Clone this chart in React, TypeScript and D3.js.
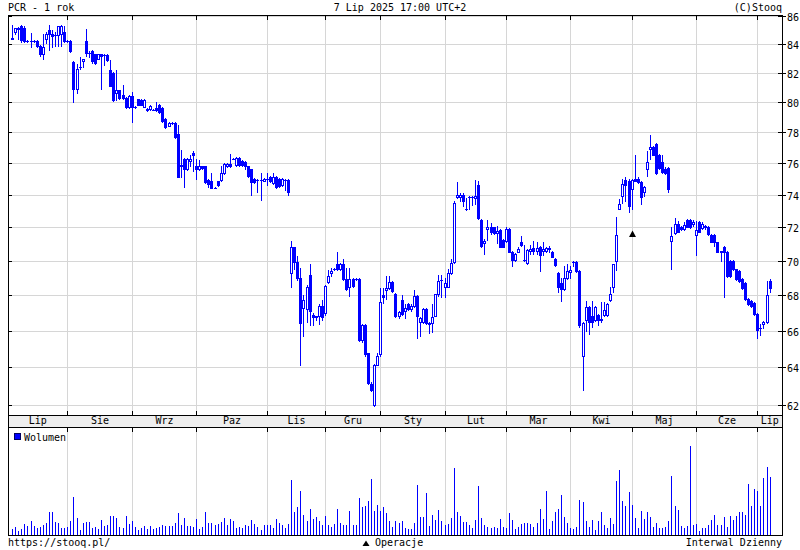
import React from "react";
import * as d3 from "d3";

const titleText = "PCR - 1 rok";
const dateText = "7 Lip 2025 17:00 UTC+2";
const copyText = "(C)Stooq";
const footerLeft = "https://stooq.pl/";
const footerMid = "Operacje";
const footerRight = "Interwal Dzienny";
const legendText = "Wolumen";

const monthLabels = ["Lip", "Sie", "Wrz", "Paz", "Lis", "Gru", "Sty", "Lut", "Mar", "Kwi", "Maj", "Cze", "Lip"];
// session index of the first session of each month after the first one
const monthStartIdx = [18, 39, 60, 83, 102, 120, 141, 161, 182, 202, 223, 243];
const priceTicks = [62, 64, 66, 68, 70, 72, 74, 76, 78, 80, 82, 84, 86];

const open = [
  84.45, 84.85, 85.15, 85.3, 85.15, 84.25, 84.25, 84.25, 84.25, 83.9,
  83.3, 84.4, 85.0, 84.75, 84.65, 84.65, 84.7, 84.85, 84.25, 84.25,
  82.75, 80.9, 82.4, 82.8, 84.25, 83.4, 83.55, 83.3, 83.0, 83.3,
  83.25, 83.25, 82.2, 82.0, 80.6, 80.8, 80.5, 80.3, 79.65, 80.45,
  79.7, 80.2, 80.15, 79.7, 79.55, 79.55, 79.5, 79.6, 79.8, 79.6,
  78.9, 78.45, 78.6, 78.6, 77.9, 75.8, 76.3, 75.6, 76.15, 76.65,
  75.8, 75.6, 75.8, 75.8, 74.95, 74.85, 74.45, 74.85, 74.95, 75.35,
  75.8, 75.95, 76.3, 75.9, 76.35, 76.15, 76.1, 75.8, 75.6, 75.0,
  74.95, 74.95, 74.9, 75.0, 75.15, 74.75, 75.15, 75.0, 74.6, 74.95,
  74.95, 69.3, 70.8, 69.95, 69.0, 67.3, 67.2, 69.15, 66.9, 66.8,
  66.8, 67.4, 67.0, 68.75, 69.3, 69.5, 69.8, 69.5, 69.8, 68.95,
  68.5, 68.95, 68.95, 68.95, 65.5, 66.3, 64.75, 63.1, 62.0, 64.15,
  64.7, 68.0, 68.3, 68.4, 68.75, 68.1, 66.8, 67.75, 67.1, 67.5,
  67.2, 67.4, 67.95, 66.5, 66.5, 67.2, 66.35, 66.45, 66.85, 68.1,
  68.9, 68.45, 68.5, 69.3, 69.95, 73.85, 73.85, 74.0, 73.1, 73.85,
  73.85, 73.8, 74.6, 72.45, 71.05, 71.9, 72.05, 72.0, 71.65, 71.85,
  71.25, 71.2, 71.9, 70.55, 70.05, 70.55, 71.15, 70.05, 69.85, 70.6,
  70.75, 70.6, 70.85, 70.6, 70.6, 70.7, 70.55, 70.1, 69.3, 68.7,
  68.35, 69.0, 69.35, 69.92, 69.92, 69.4, 64.6, 66.6, 67.35, 66.85,
  66.6, 66.9, 66.6, 66.9, 66.9, 67.75, 68.48, 70.0, 73.15, 73.9,
  74.95, 74.85, 74.35, 75.0, 75.0, 74.8, 74.15, 75.65, 76.9, 77.05,
  77.25, 76.55, 76.05, 75.65, 75.7, 71.2, 71.65, 72.2, 72.0, 71.9,
  72.45, 72.45, 72.2, 71.55, 72.35, 71.95, 72.1, 72.05, 71.55, 71.55,
  71.1, 70.57, 70.85, 70.55, 69.98, 69.98, 69.5, 69.4, 68.95, 68.7,
  67.8, 67.7, 67.55, 66.95, 66.15, 66.4, 66.5, 68.8,
];
const high = [
  85.4, 85.15, 85.2, 85.4, 85.3, 84.3, 84.8, 84.3, 84.3, 83.95,
  84.7, 84.9, 85.35, 85.0, 84.9, 85.3, 85.4, 85.3, 84.3, 84.3,
  82.8, 82.6, 83.1, 82.95, 85.1, 83.5, 83.6, 83.35, 83.3, 83.35,
  83.35, 83.3, 82.9, 82.05, 82.2, 80.85, 81.2, 80.35, 80.5, 80.7,
  79.75, 80.25, 80.2, 80.2, 79.6, 79.8, 79.55, 80.0, 79.9, 79.65,
  78.95, 78.65, 78.65, 78.65, 78.5, 76.85, 76.35, 76.35, 76.5, 76.8,
  76.3, 76.2, 75.85, 75.85, 75.0, 75.35, 74.5, 74.9, 75.8, 76.0,
  76.0, 76.6, 76.35, 76.4, 76.4, 76.2, 76.15, 75.85, 75.65, 75.05,
  75.0, 75.35, 75.05, 75.35, 75.2, 75.35, 75.2, 75.05, 75.05, 75.0,
  75.0, 71.2, 70.85, 70.3, 69.6, 68.0, 68.6, 69.8, 67.0, 66.85,
  67.5, 67.75, 68.6, 69.45, 69.6, 69.6, 70.5, 69.85, 70.1, 69.6,
  69.6, 69.0, 69.0, 69.0, 66.4, 66.35, 64.8, 63.2, 64.2, 64.8,
  68.4, 68.4, 69.1, 69.1, 68.8, 68.15, 67.1, 68.0, 67.5, 67.55,
  67.5, 68.3, 68.0, 66.75, 67.25, 67.25, 66.5, 67.5, 68.1, 69.2,
  69.2, 69.0, 69.5, 70.1, 73.6, 74.8, 74.1, 74.1, 73.8, 73.9,
  73.9, 74.95, 74.9, 72.5, 71.3, 72.45, 72.25, 72.05, 72.1, 71.9,
  71.3, 72.05, 71.95, 70.6, 70.45, 70.8, 71.5, 70.95, 70.7, 70.95,
  71.2, 71.15, 70.9, 71.15, 70.8, 70.9, 70.6, 70.15, 69.35, 69.0,
  69.7, 69.8, 69.7, 70.0, 70.0, 69.45, 66.5, 67.65, 67.4, 67.7,
  67.4, 66.95, 67.6, 67.6, 67.55, 68.45, 69.8, 72.65, 73.75, 75.0,
  75.15, 75.0, 75.0, 76.55, 75.1, 74.85, 74.55, 76.8, 77.8, 77.1,
  77.3, 76.6, 76.5, 75.75, 75.75, 72.05, 72.6, 72.4, 72.1, 72.3,
  72.5, 72.5, 72.45, 72.4, 72.4, 72.3, 72.15, 72.1, 71.6, 71.6,
  71.15, 70.6, 70.9, 70.6, 70.05, 70.05, 69.55, 69.45, 69.0, 68.75,
  67.85, 67.75, 67.6, 67.0, 66.4, 66.55, 68.8, 68.95,
];
const low = [
  84.4, 84.7, 84.4, 84.2, 84.2, 84.2, 83.8, 84.2, 83.8, 83.2,
  83.0, 84.1, 83.6, 83.8, 83.85, 83.85, 83.85, 84.2, 84.2, 83.45,
  80.0, 80.6, 82.3, 82.4, 83.2, 83.1, 82.7, 82.6, 82.95, 80.9,
  82.55, 82.85, 81.1, 80.1, 80.15, 80.25, 80.2, 79.6, 79.6, 78.7,
  79.6, 79.8, 79.8, 79.65, 79.4, 79.5, 79.45, 79.4, 79.3, 78.7,
  78.3, 78.4, 78.55, 77.65, 75.1, 75.1, 74.5, 75.55, 75.85, 75.5,
  75.0, 75.55, 75.65, 74.75, 74.5, 74.4, 74.4, 74.55, 74.9, 75.3,
  75.75, 75.75, 76.25, 75.85, 75.85, 75.85, 75.6, 75.15, 74.0, 74.75,
  74.2, 73.7, 74.85, 74.6, 74.8, 74.7, 74.45, 74.5, 74.55, 74.3,
  74.0, 68.5, 69.5, 68.9, 64.1, 65.7, 66.5, 66.3, 66.3, 66.6,
  66.4, 66.6, 66.9, 68.7, 69.1, 69.45, 69.45, 69.45, 68.9, 68.3,
  67.95, 68.5, 68.9, 65.45, 65.4, 64.6, 63.1, 62.75, 61.95, 64.1,
  64.6, 67.55, 67.8, 68.35, 68.2, 66.75, 66.7, 66.9, 66.7, 67.15,
  67.1, 67.35, 65.6, 65.7, 66.45, 66.4, 65.85, 65.95, 66.8, 67.95,
  67.9, 67.9, 68.45, 69.25, 69.9, 73.8, 73.6, 73.3, 73.05, 73.15,
  73.4, 73.45, 72.5, 70.85, 70.4, 71.25, 71.6, 71.6, 71.05, 70.8,
  70.8, 71.15, 70.5, 69.7, 70.0, 70.5, 70.9, 70.0, 69.8, 70.4,
  70.4, 70.4, 69.4, 70.35, 70.55, 70.55, 70.2, 69.7, 68.2, 67.7,
  68.3, 68.95, 69.0, 69.7, 69.35, 66.2, 62.8, 66.0, 65.8, 66.2,
  66.55, 66.3, 66.5, 66.85, 66.85, 67.7, 68.2, 69.45, 73.1, 73.5,
  73.6, 72.95, 73.1, 74.85, 74.75, 73.45, 73.95, 75.2, 76.3, 76.5,
  75.3, 75.65, 75.4, 75.3, 74.2, 69.5, 71.6, 71.7, 71.85, 71.85,
  72.0, 71.95, 72.1, 70.35, 71.7, 71.9, 71.9, 71.55, 71.1, 70.9,
  70.5, 70.0, 67.9, 69.05, 69.05, 69.45, 68.9, 68.75, 68.35, 67.75,
  67.45, 67.35, 66.9, 65.6, 65.75, 66.15, 66.45, 68.2,
];
const close = [
  84.4, 85.15, 85.1, 84.3, 84.25, 84.25, 84.25, 84.25, 83.85, 83.3,
  83.8, 84.75, 84.7, 84.6, 84.65, 85.3, 85.3, 84.25, 84.25, 83.5,
  80.9, 82.3, 82.4, 82.95, 83.4, 83.4, 82.8, 82.7, 83.3, 83.2,
  83.25, 82.9, 81.1, 80.15, 80.8, 80.3, 80.3, 79.65, 80.45, 79.65,
  79.7, 79.85, 79.85, 80.15, 79.45, 79.75, 79.5, 79.5, 79.35, 78.75,
  78.35, 78.6, 78.6, 77.7, 75.15, 75.9, 75.6, 76.3, 76.3, 76.5,
  75.6, 75.8, 75.7, 74.8, 74.7, 74.45, 74.45, 74.6, 75.35, 75.95,
  75.95, 75.8, 76.3, 76.35, 75.9, 75.9, 75.8, 75.2, 74.8, 74.8,
  74.95, 74.95, 75.0, 75.0, 74.85, 75.15, 74.5, 74.55, 75.0, 74.95,
  74.2, 70.8, 69.95, 69.0, 66.45, 67.75, 68.5, 67.1, 66.75, 66.75,
  67.4, 66.75, 68.55, 69.1, 69.4, 69.55, 69.5, 69.8, 68.95, 68.35,
  68.95, 68.55, 68.95, 65.5, 66.3, 64.7, 63.15, 62.8, 64.15, 64.6,
  67.6, 67.9, 68.4, 68.75, 68.25, 66.8, 67.05, 66.95, 67.3, 67.2,
  67.4, 67.95, 66.85, 66.7, 67.2, 66.45, 66.45, 66.75, 68.08, 68.8,
  68.9, 68.7, 69.3, 69.87, 73.5, 74.0, 74.0, 73.6, 73.15, 73.85,
  73.85, 73.9, 72.55, 70.9, 71.2, 72.05, 71.7, 71.65, 71.8, 70.85,
  70.85, 71.9, 70.55, 70.05, 70.4, 70.7, 70.95, 70.05, 70.65, 70.7,
  70.6, 70.75, 70.35, 70.7, 70.75, 70.75, 70.25, 69.75, 68.5, 68.35,
  69.0, 69.4, 69.45, 69.92, 69.4, 66.3, 66.45, 67.35, 66.5, 66.5,
  67.35, 66.6, 66.65, 67.15, 67.5, 68.08, 69.8, 71.55, 73.45, 74.65,
  74.6, 73.3, 74.95, 74.9, 74.8, 73.85, 74.5, 76.1, 77.05, 76.55,
  75.35, 75.7, 75.45, 75.35, 74.35, 71.5, 72.2, 71.75, 71.9, 72.15,
  72.05, 72.0, 72.35, 71.85, 71.75, 72.2, 72.05, 71.6, 71.15, 71.1,
  70.55, 70.55, 70.55, 69.1, 69.1, 69.5, 68.95, 68.8, 68.4, 67.8,
  67.5, 67.4, 66.95, 66.05, 66.15, 66.5, 68.0, 68.4,
];
const volume = [
  47, 67, 27, 50, 97, 77, 127, 77, 63, 70,
  93, 110, 217, 217, 117, 107, 60, 60, 67, 127,
  367, 160, 40, 107, 117, 117, 60, 67, 50, 137,
  77, 87, 177, 177, 163, 67, 63, 177, 97, 127,
  70, 40, 60, 83, 53, 83, 47, 57, 73, 93,
  77, 77, 77, 107, 207, 87, 160, 77, 77, 70,
  147, 47, 67, 217, 107, 107, 93, 97, 117, 157,
  87, 150, 130, 60, 73, 57, 93, 77, 137, 103,
  70, 37, 87, 93, 87, 57, 147, 110, 87, 60,
  97, 537, 217, 267, 427, 187, 127, 247, 147, 167,
  127, 87, 177, 87, 70, 97, 247, 107, 87, 87,
  227, 93, 87, 357, 267, 277, 327, 547, 227, 287,
  227, 267, 207, 127, 70, 127, 110, 127, 57, 50,
  50, 113, 487, 167, 167, 407, 77, 187, 137, 237,
  127, 93, 97, 157, 657, 217, 177, 117, 117, 87,
  57, 137, 477, 157, 87, 67, 57, 67, 57, 147,
  67, 57, 207, 137, 47, 67, 97, 107, 113, 97,
  67, 107, 247, 147, 430, 47, 127, 217, 247, 387,
  167, 107, 57, 47, 67, 337, 317, 127, 67, 137,
  37, 127, 217, 87, 57, 157, 97, 527, 637, 327,
  277, 417, 287, 157, 57, 227, 147, 217, 167, 67,
  107, 57, 57, 67, 127, 577, 277, 237, 77, 57,
  77, 877, 87, 97, 27, 57, 57, 87, 137, 187,
  87, 87, 167, 67, 177, 137, 177, 217, 217, 187,
  497, 277, 447, 427, 277, 557, 667, 567,
];
const operationIdx = [202];
const operationPrice = [71.6];

const W = 800;
const H = 550;
const L = 8;
const R = 782;
const PT = 15;
const PB = 415;
const BB = 427;
const VB = 535;
const BLUE = "#0000ff";
const GRID = "#d6d6d6";
const FONT = "'DejaVu Sans Mono', 'Liberation Mono', monospace";

export default function App() {
  const n = close.length;
  const x = d3.scaleLinear().domain([0, n - 1]).range([12.1, 769.6]);
  const y = d3.scaleLog().domain([61.48, 86.1]).range([PB, PT]);
  const v = d3.scaleLinear().domain([0, 1070]).range([VB - 1, BB]);

  const gridX = monthStartIdx.map((i) => Math.round(x(i)) + 0.5);
  const bounds = [L, ...gridX, R];
  const labelX = monthLabels.map((_, k) => (bounds[k] + bounds[k + 1]) / 2);

  const candles = d3.range(n).map((i) => {
    const cx = Math.round(x(i));
    const o = open[i];
    const c = close[i];
    const top = Math.round(y(Math.max(o, c)));
    const bot = Math.round(y(Math.min(o, c)));
    const hy = Math.round(y(high[i]));
    const ly = Math.round(y(low[i]));
    const up = c >= o;
    return (
      <g key={i}>
        <line x1={cx + 0.5} x2={cx + 0.5} y1={hy} y2={ly + 1} stroke={BLUE} strokeWidth={1} />
        {bot - top < 1 ? (
          <line x1={cx - 1} x2={cx + 2} y1={top + 0.5} y2={top + 0.5} stroke={BLUE} strokeWidth={1} />
        ) : (
          <rect
            x={cx - 0.5}
            y={top + 0.5}
            width={2}
            height={bot - top}
            fill={up ? "#ffffff" : BLUE}
            stroke={BLUE}
            strokeWidth={1}
          />
        )}
      </g>
    );
  });

  const bars = volume.map((val, i) => {
    const cx = Math.round(x(i)) + 0.5;
    return <line key={i} x1={cx} x2={cx} y1={Math.round(v(val))} y2={VB - 0.5} stroke={BLUE} strokeWidth={1} />;
  });

  const textStyle = { fontFamily: FONT, fontSize: 10, fill: "#000" } as const;

  return (
    <svg
      width={W}
      height={H}
      viewBox={`0 0 ${W} ${H}`}
      style={{ position: "absolute", left: 0, top: 0, display: "block", background: "#fff" }}
      shapeRendering="crispEdges"
    >
      <rect x={0} y={0} width={W} height={H} fill="#fff" />
      <text x={L} y={11} {...textStyle}>{titleText}</text>
      <text x={400} y={11} textAnchor="middle" {...textStyle}>{dateText}</text>
      <text x={R} y={11} textAnchor="end" {...textStyle}>{copyText}</text>

      {/* price grid */}
      {priceTicks.map((p) => (
        <line key={"hg" + p} x1={L} x2={R} y1={Math.round(y(p)) + 0.5} y2={Math.round(y(p)) + 0.5} stroke={GRID} />
      ))}
      {gridX.map((gx, k) => (
        <line key={"vg" + k} x1={gx} x2={gx} y1={PT} y2={PB} stroke={GRID} />
      ))}
      {gridX.map((gx, k) => (
        <line key={"vv" + k} x1={gx} x2={gx} y1={BB} y2={VB} stroke={GRID} />
      ))}

      {candles}

      {operationIdx.map((oi, k) => {
        const cx = Math.round(x(oi)) + 0.5;
        const cy = y(operationPrice[k]);
        return (
          <path
            key={"op" + k}
            d={`M${cx},${cy - 3.5} L${cx + 3.5},${cy + 3} L${cx - 3.5},${cy + 3} Z`}
            fill="#000"
            shapeRendering="geometricPrecision"
          />
        );
      })}

      {bars}

      {/* label band */}
      <rect x={L + 0.5} y={PB + 0.5} width={R - L} height={BB - PB} fill="#eeeeee" stroke="#000" />
      {/* frames */}
      <rect x={L + 0.5} y={PT + 0.5} width={R - L} height={PB - PT} fill="none" stroke="#000" />
      <rect x={L + 0.5} y={BB + 0.5} width={R - L} height={VB - BB} fill="none" stroke="#000" />

      {/* month ticks */}
      {gridX.map((gx, k) => (
        <g key={"mt" + k}>
          <line x1={gx} x2={gx} y1={PT} y2={PT + 5} stroke="#000" />
          <line x1={gx} x2={gx} y1={PB - 4} y2={PB} stroke="#000" />
          <line x1={gx} x2={gx} y1={BB} y2={BB + 5} stroke="#000" />
        </g>
      ))}
      {monthLabels.map((m, k) => (
        <text key={"ml" + k} x={labelX[k]} y={424} textAnchor="middle" {...textStyle}>{m}</text>
      ))}

      {/* price ticks */}
      {priceTicks.map((p) => {
        const ty = Math.round(y(p)) + 0.5;
        return (
          <g key={"pt" + p}>
            <line x1={L} x2={L + 4} y1={ty} y2={ty} stroke="#000" />
            <line x1={R - 4} x2={R + 4} y1={ty} y2={ty} stroke="#000" />
            <text x={R + 5} y={ty + 4} {...textStyle}>{p}</text>
          </g>
        );
      })}

      {/* legend */}
      <rect x={14.5} y={433.5} width={6} height={6} fill={BLUE} stroke="#000060" />
      <text x={24} y={441} {...textStyle}>{legendText}</text>

      {/* footer */}
      <text x={L} y={546} {...textStyle}>{footerLeft}</text>
      <path d="M366,540.5 L369.5,546 L362.5,546 Z" fill="#000" shapeRendering="geometricPrecision" />
      <text x={375} y={546} {...textStyle}>{footerMid}</text>
      <text x={R} y={546} textAnchor="end" {...textStyle}>{footerRight}</text>
    </svg>
  );
}
